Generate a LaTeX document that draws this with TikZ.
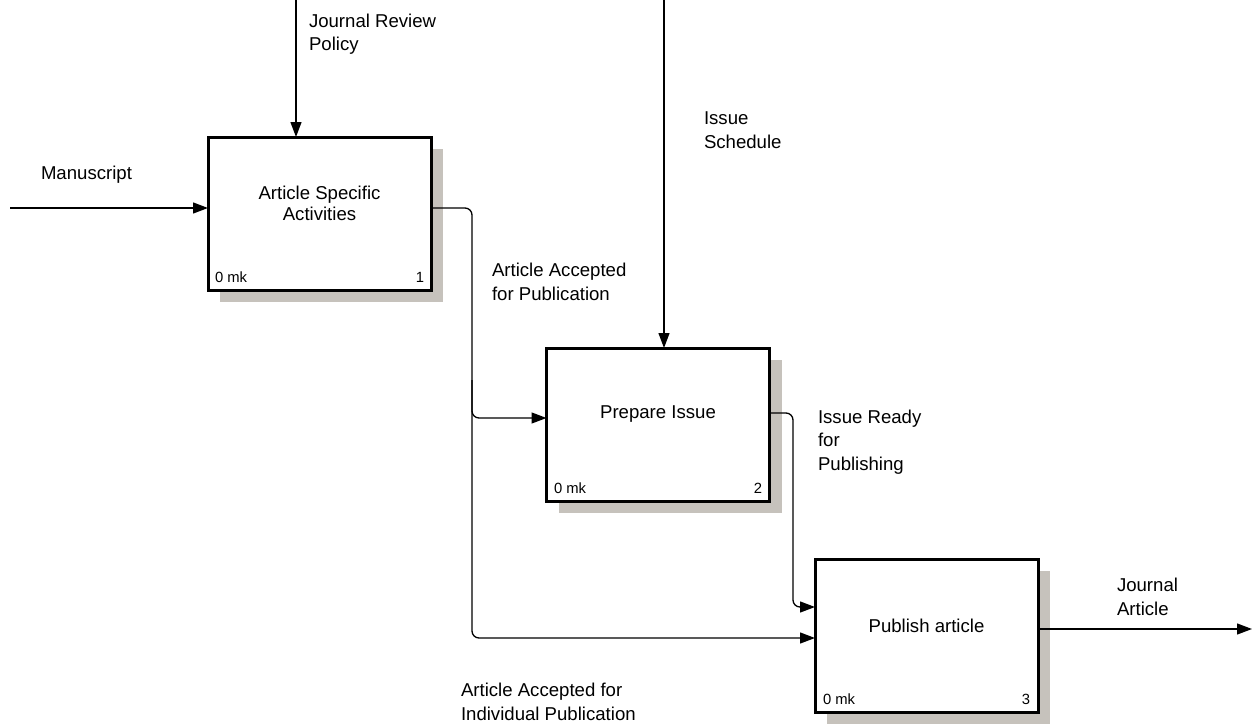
\documentclass[tikz,border=0pt]{standalone}
\usepackage{fontspec}
\setmainfont{Liberation Sans}
\usetikzlibrary{arrows.meta,shadows}
\definecolor{shadowgrey}{RGB}{198,194,188}
\begin{document}
\begin{tikzpicture}[x=1pt,y=-1pt,
  every node/.style={inner sep=0pt,outer sep=0pt},
  lbl/.style={font=\fontsize{18.6}{23.5}\selectfont,align=left,anchor=west},
  boxtext/.style={font=\fontsize{18.6}{21.6}\selectfont,align=center},
  corner/.style={font=\fontsize{14.8}{17}\selectfont},
  activity/.style={draw=black,line width=3pt,fill=white,
    minimum width=223pt,minimum height=153pt,
    drop shadow={shadow xshift=12pt,shadow yshift=-12pt,fill=shadowgrey,opacity=1}},
  flow/.style={line width=1.3pt,-{Triangle[length=15pt,width=11pt]},rounded corners=7pt},
]
\useasboundingbox (0,0) rectangle (1254,725);

% activity boxes
\node[activity] (b1) at (319.5,213.5) {};
\node[activity] (b2) at (658,424.5) {};
\node[activity] (b3) at (926.5,635.5) {};

% box titles and corner marks
\node[boxtext] (t1) at (319.5,203.5) {Article Specific\\Activities};
\node[boxtext] (t2) at (658,414.5) {Prepare Issue};
\node[boxtext] (t3) at (926.5,625.5) {Publish article};
\node[corner,anchor=west] (m1) at (215,277) {0 mk};
\node[corner,anchor=east] (n1) at (424,277) {1};
\node[corner,anchor=west] (m2) at (554,488) {0 mk};
\node[corner,anchor=east] (n2) at (762,488) {2};
\node[corner,anchor=west] (m3) at (823,699) {0 mk};
\node[corner,anchor=east] (n3) at (1030,699) {3};

% free ends of the boundary arrows
\coordinate (inM) at (10,208);
\coordinate (ctlJ) at (296,0);
\coordinate (ctlI) at (664,0);
\coordinate (outJ) at (1252,629);

% routing points
\coordinate (o1) at (431,208);
\coordinate (v1) at (472,208);
\coordinate (s1) at (472,380);
\coordinate (j1) at (472,418);
\coordinate (j2) at (472,638);
\coordinate (o2) at (769,413);
\coordinate (v2) at (793,413);
\coordinate (k2) at (793,607);

% connectors
\draw[flow] (inM) -- (inM -| b1.west);
\draw[flow] (ctlJ) -- (ctlJ |- b1.north);
\draw[flow] (ctlI) -- (ctlI |- b2.north);
\draw[flow] (o1) -- (v1) -- (j1) -- (j1 -| b2.west);
\draw[flow] (s1) -- (j2) -- (j2 -| b3.west);
\draw[flow] (o2) -- (v2) -- (k2) -- (k2 -| b3.west);
\draw[flow] (outJ -| b3.east) -- (outJ);

% arrow labels
\node[lbl] (lM) at (41,175) {Manuscript};
\node[lbl] (lJ) at (309,34) {Journal Review\\Policy};
\node[lbl] (lI) at (704,130) {Issue\\Schedule};
\node[lbl] (lA) at (492,282) {Article Accepted\\for Publication};
\node[lbl] (lR) at (818,442) {Issue Ready\\for\\Publishing};
\node[lbl] (lO) at (1117,597) {Journal\\Article};
\node[lbl] (lP) at (461,702) {Article Accepted for\\Individual Publication};
\end{tikzpicture}
\end{document}
